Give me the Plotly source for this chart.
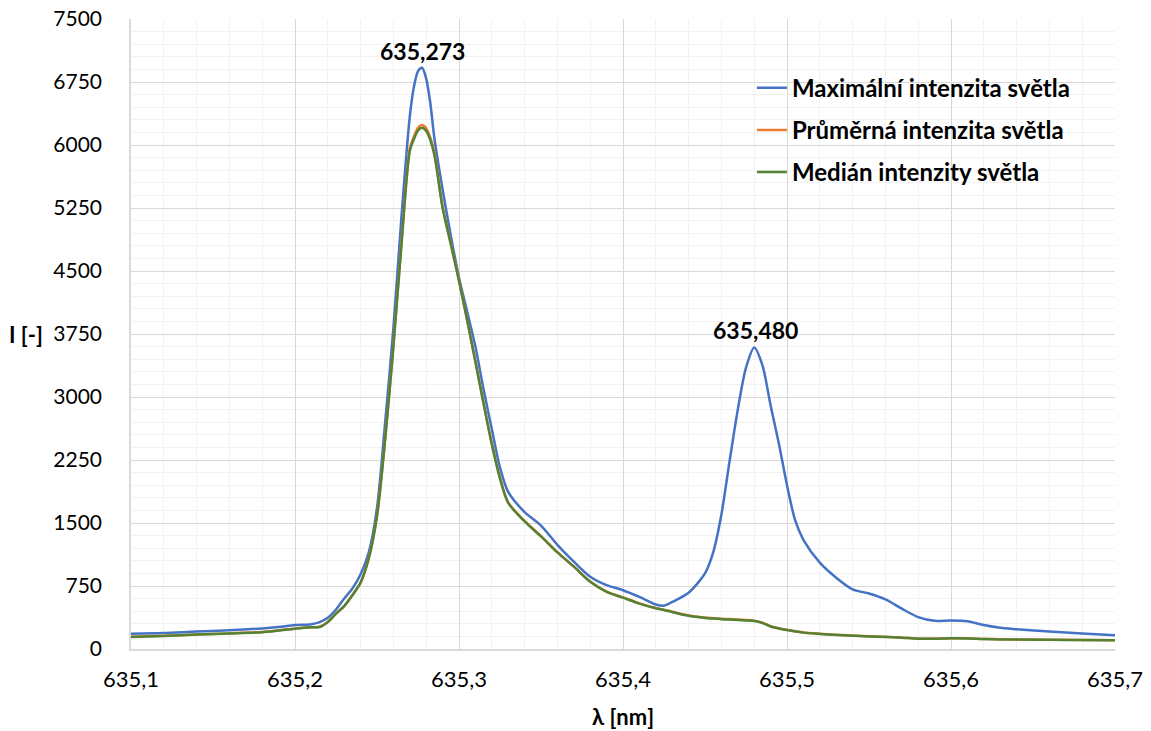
import plotly.graph_objects as go

wavelength = [635.100, 635.120, 635.140, 635.160, 635.180, 635.190, 635.200, 635.210, 635.215, 635.220,
              635.225, 635.230, 635.235, 635.240, 635.245, 635.250, 635.255, 635.260, 635.265, 635.270,
              635.2725, 635.275, 635.2775, 635.280, 635.2825, 635.285, 635.290, 635.295, 635.300, 635.305,
              635.310, 635.315, 635.320, 635.325, 635.330, 635.340, 635.350, 635.360, 635.370, 635.380,
              635.390, 635.400, 635.410, 635.420, 635.425, 635.430, 635.440, 635.450, 635.455, 635.460,
              635.465, 635.470, 635.475, 635.480, 635.485, 635.490, 635.495, 635.500, 635.505, 635.510,
              635.520, 635.530, 635.540, 635.550, 635.560, 635.570, 635.580, 635.590, 635.600, 635.610,
              635.620, 635.630, 635.640, 635.660, 635.680, 635.700]

max_intensity = [183, 190, 208, 222, 245, 262, 285, 294, 320, 372,
                 470, 600, 720, 890, 1150, 1680, 2700, 3820, 5165, 6340,
                 6690, 6880, 6920, 6790, 6500, 6080, 5470, 4920, 4420, 4015,
                 3600, 3090, 2620, 2160, 1870, 1630, 1470, 1240, 1040, 860,
                 760, 700, 620, 530, 515, 560, 670, 900, 1150, 1600,
                 2238, 2850, 3350, 3590, 3380, 2900, 2450, 1950, 1530, 1300,
                 1028, 849, 710, 660, 590, 480, 380, 335, 340, 330,
                 285, 252, 235, 207, 185, 163]

mean_intensity = [145, 157, 173, 186, 202, 222, 244, 260, 264, 322,
                  422, 512, 642, 792, 1085, 1590, 2510, 3615, 4860, 5960,
                  6100, 6205, 6238, 6200, 6090, 5910, 5270, 4830, 4390, 3915,
                  3425, 2925, 2445, 2035, 1745, 1524, 1344, 1153, 983, 803,
                  683, 614, 543, 487, 468, 443, 398, 374, 367, 361,
                  356, 352, 346, 338, 314, 271, 247, 227, 212, 197,
                  182, 170, 160, 152, 145, 137, 125, 124, 129, 127,
                  120, 116, 114, 111, 108, 105]

median_intensity = [143, 155, 172, 185, 200, 220, 242, 258, 262, 320,
                    420, 510, 640, 790, 1080, 1580, 2500, 3600, 4830, 5930,
                    6070, 6173, 6206, 6168, 6059, 5880, 5250, 4820, 4380, 3910,
                    3420, 2920, 2440, 2030, 1740, 1520, 1340, 1150, 980, 800,
                    680, 611, 540, 484, 465, 440, 395, 370, 362, 355,
                    350, 345, 340, 333, 310, 268, 245, 225, 210, 195,
                    180, 168, 158, 150, 143, 135, 123, 122, 127, 125,
                    118, 114, 112, 109, 106, 103]

series_names = ["Maximální intenzita světla", "Průměrná intenzita světla", "Medián intenzity světla"]
series_colors = ["#4472C4", "#ED7D31", "#548235"]

peak_x = [635.2775, 635.4805]
peak_y = [6920, 3590]
peak_labels = ["635,273", "635,480"]

x_tickvals = [635.1, 635.2, 635.3, 635.4, 635.5, 635.6, 635.7]
x_ticktext = ["635,1", "635,2", "635,3", "635,4", "635,5", "635,6", "635,7"]
y_tickvals = [0, 750, 1500, 2250, 3000, 3750, 4500, 5250, 6000, 6750, 7500]

FONT = "Lato"

fig = go.Figure()
for i, (vals, name, col) in enumerate(zip([max_intensity, mean_intensity, median_intensity],
                                          series_names, series_colors)):
    fig.add_trace(go.Scatter(
        x=wavelength, y=vals, mode="lines", name=name,
        line=dict(color=col, width=2.5, shape="spline", smoothing=0.8),
        legendgroup=f"g{i}",
    ))

for px_, py_, lab in zip(peak_x, peak_y, peak_labels):
    fig.add_annotation(x=px_, y=py_, text=f"<b>{lab}</b>", showarrow=False,
                       yanchor="bottom", yshift=1,
                       font=dict(family=FONT, size=23, color="#000000"))

fig.add_annotation(xref="paper", yref="y", x=-0.107, y=3750, text="<b>I [-]</b>",
                   showarrow=False, xanchor="center", yanchor="middle",
                   font=dict(family=FONT, size=22, color="#000000"))

fig.update_layout(
    width=1151, height=731,
    margin=dict(l=131, r=36, t=19, b=82),
    paper_bgcolor="white", plot_bgcolor="white",
    font=dict(family=FONT, size=22, color="#000000"),
    showlegend=True,
    legend=dict(x=0.631, y=0.926, xanchor="left", yanchor="top",
                bgcolor="rgba(0,0,0,0)", tracegroupgap=8,
                font=dict(family=FONT, size=24, color="#000000", weight="bold")),
    xaxis=dict(range=[635.1, 635.7], tickvals=x_tickvals, ticktext=x_ticktext,
               automargin=False, ticklabeloverflow="allow",
               showgrid=True, gridcolor="#D9D9D9", gridwidth=1,
               minor=dict(dtick=0.02, showgrid=True, gridcolor="#F2F2F2", gridwidth=1),
               showline=True, linecolor="#D9D9D9", linewidth=1.5, zeroline=False,
               ticks="", ticklabelstandoff=10,
               tickfont=dict(family=FONT, size=22),
               title=dict(text="<b>λ [nm]</b>", font=dict(family=FONT, size=22), standoff=18)),
    yaxis=dict(range=[0, 7500], tickvals=y_tickvals,
               automargin=False, ticklabeloverflow="allow",
               showgrid=True, gridcolor="#D9D9D9", gridwidth=1,
               minor=dict(dtick=150, showgrid=True, gridcolor="#F2F2F2", gridwidth=1),
               showline=True, linecolor="#D9D9D9", linewidth=1.5, zeroline=False,
               ticks="", ticklabelstandoff=23,
               tickfont=dict(family=FONT, size=21)),
)

fig.write_html("out.html", config={"displayModeBar": False},
               post_script="document.body.style.margin='0px';document.body.style.overflow='hidden';")
